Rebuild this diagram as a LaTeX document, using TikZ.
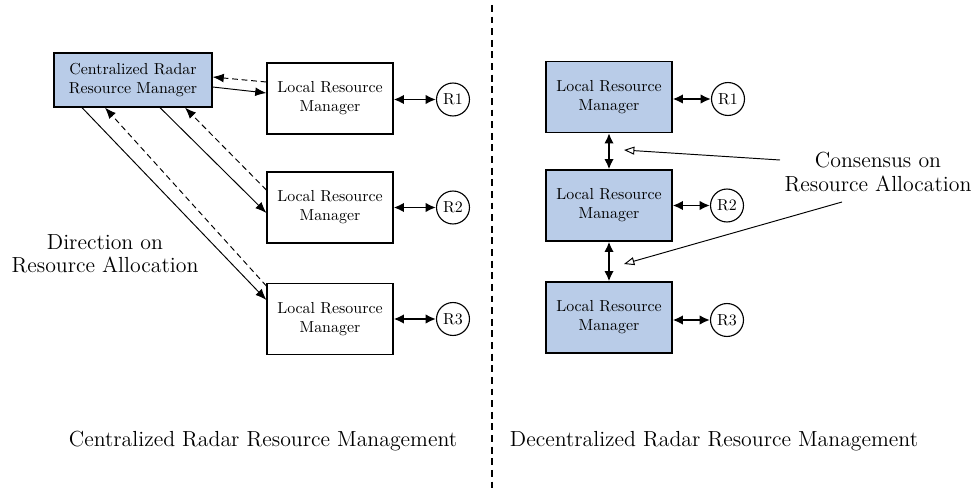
\documentclass[tikz,border=0pt]{standalone}
\usetikzlibrary{arrows.meta,calc}
\definecolor{boxblue}{RGB}{185,204,232}
\begin{document}
\begin{tikzpicture}[x=0.628pt,y=-0.628pt,
  mgr/.style={draw,line width=0.8pt,align=center,inner sep=0pt,font=\fontsize{10}{12}\selectfont},
  central/.style={mgr,fill=boxblue,minimum width=99.2pt,minimum height=33.9pt},
  localbox/.style={mgr,minimum width=79.1pt,minimum height=44.6pt},
  bluebox/.style={localbox,fill=boxblue},
  res/.style={draw,circle,line width=0.7pt,minimum size=20.7pt,inner sep=0pt,font=\fontsize{10}{12}\selectfont},
  big/.style={align=center,font=\fontsize{13.7}{14.6}\selectfont},
  solidarr/.style={line width=0.6pt,-{Latex[length=7pt,width=5.5pt]}},
  dasharr/.style={line width=0.6pt,dash pattern=on 3.6pt off 2.4pt,-{Latex[length=7pt,width=5.5pt]}},
  dbl/.style={line width=1.2pt,{Latex[length=6.5pt,width=6pt]}-{Latex[length=6.5pt,width=6pt]}},
  openarr/.style={line width=0.6pt,-{Triangle[open,length=6.5pt,width=5pt]}},
  divider/.style={line width=0.7pt,dash pattern=on 4.3pt off 3pt}
]
\useasboundingbox (0,0) rectangle (974,490);

% left side
\node[central] (C) at (133,80) {Centralized Radar\\Resource Manager};
\node[localbox] (L1) at (330,98.5) {Local Resource\\Manager};
\node[localbox] (L2) at (330,207.5) {Local Resource\\Manager};
\node[localbox] (L3) at (330,319) {Local Resource\\Manager};
\node[res] (LR1) at (453,99.5) {R1};
\node[res] (LR2) at (453,207.5) {R2};
\node[res] (LR3) at (453,319) {R3};

\draw[solidarr] ([yshift=-7*0.628pt]C.east) -- ([yshift=5.5*0.628pt]L1.west);
\draw[dasharr] ([yshift=16.5*0.628pt]L1.west) -- ([yshift=3*0.628pt]C.east);
\draw[solidarr] ([xshift=-51*0.628pt]C.south) -- ([yshift=19*0.628pt]L3.west);
\draw[dasharr] ([yshift=33*0.628pt]L3.west) -- ([xshift=-28*0.628pt]C.south);
\draw[solidarr] ([xshift=27*0.628pt]C.south) -- ([yshift=-5.5*0.628pt]L2.west);
\draw[dasharr] ([yshift=17.5*0.628pt]L2.west) -- ([xshift=52*0.628pt]C.south);

\draw[dbl] (L1.east |- LR1) -- (LR1.west);
\draw[dbl] (L2.east) -- (LR2.west);
\draw[dbl] (L3.east) -- (LR3.west);

\node[big] (dir) at (105,254) {Direction on\\Resource Allocation};
\node[big] (capL) at (263,441) {Centralized Radar Resource Management};

% divider
\coordinate (dtop) at (492,5);
\coordinate (dbot) at (492,490);
\draw[divider] (dtop) -- (dbot);

% right side
\node[bluebox] (B1) at (609,97) {Local Resource\\Manager};
\node[bluebox] (B2) at (609,205.5) {Local Resource\\Manager};
\node[bluebox] (B3) at (609,317.5) {Local Resource\\Manager};
\node[res] (RR1) at (728,99) {R1};
\node[res] (RR2) at (727,205.5) {R2};
\node[res] (RR3) at (727,320) {R3};
\draw[dbl] (B1.east |- RR1) -- (RR1.west);
\draw[dbl] (B2.east) -- (RR2.west);
\draw[dbl] (B3.east |- RR3) -- (RR3.west);
\draw[dbl] (B1.south) -- (B2.north);
\draw[dbl] (B2.south) -- (B3.north);

\node[big] (cons) at (878,172) {Consensus on\\Resource Allocation};
\coordinate (c1s) at (780,160);
\coordinate (c1e) at (624,150);
\coordinate (c2s) at (842,202);
\coordinate (c2e) at (624,264);
\draw[openarr] (c1s) -- (c1e);
\draw[openarr] (c2s) -- (c2e);

\node[big] (capR) at (714,441) {Decentralized Radar Resource Management};
\end{tikzpicture}
\end{document}
